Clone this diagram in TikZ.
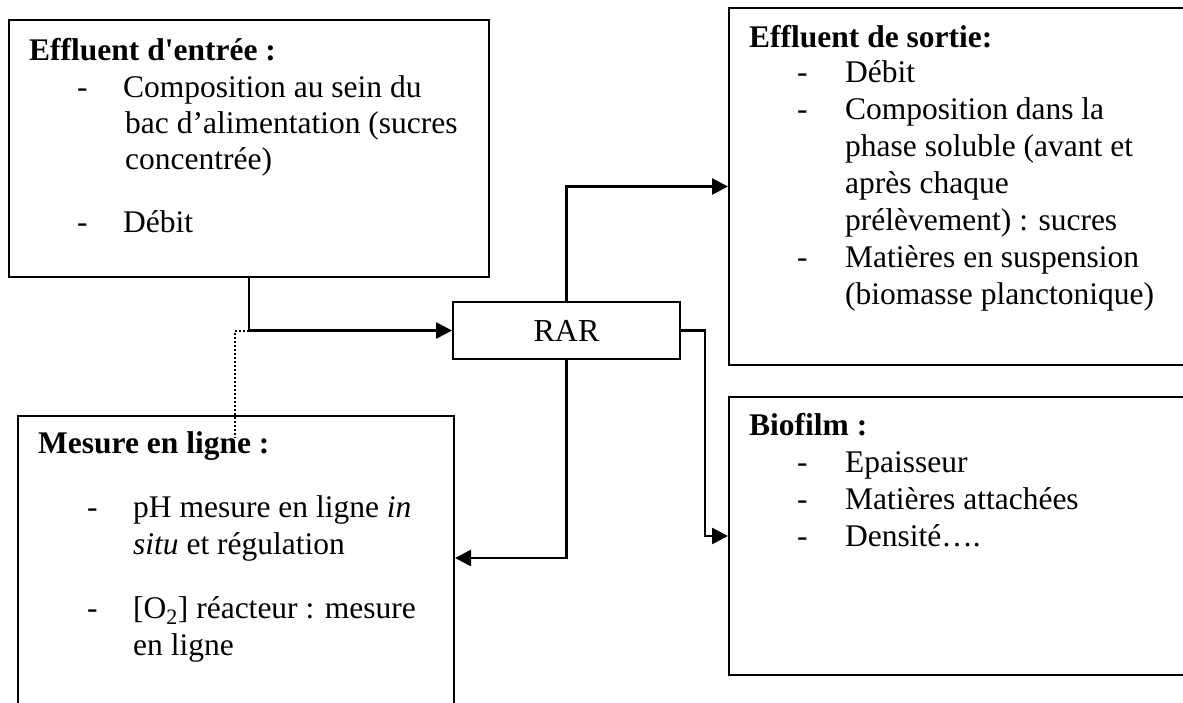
\documentclass[tikz,border=0pt]{standalone}
\usepackage{fontspec}
\setmainfont{Liberation Serif}[Ligatures=TeXOff]
\usetikzlibrary{arrows.meta}
\begin{document}
\begin{tikzpicture}[x=1pt,y=-1pt,
  box/.style={draw,line width=2pt,inner sep=0pt,anchor=north west},
  txt/.style={anchor=base west,inner sep=0pt,font=\fontsize{31.5}{37}\selectfont},
  ttl/.style={anchor=base west,inner sep=0pt,font=\fontsize{31.5}{37}\selectfont\bfseries},
  conn/.style={line width=2.6pt,-{Triangle[length=16pt,width=16pt]}},
  dotline/.style={line width=2pt,dash pattern=on 2pt off 2pt},
]
\useasboundingbox (0,0) rectangle (1183,702);
\clip (0,0) rectangle (1183,702);
\fill[white] (0,0) rectangle (1183,702);

% boxes
\node[box,minimum width=480pt,minimum height=257pt] (entree) at (8,19) {};
\node[box,minimum width=480pt,minimum height=357pt] (sortie) at (728,7) {};
\node[box,minimum width=480pt,minimum height=278pt] (biofilm) at (728,396) {};
\node[box,minimum width=436pt,minimum height=310pt] (mesure) at (17,415) {};
\node[draw,line width=2pt,minimum width=227pt,minimum height=57pt,inner sep=0pt,
      font=\fontsize{32}{38}\selectfont] (rar) at (566.5,330.5) {RAR};

% Effluent d'entree
\node[ttl] (a0) at (29,60) {Effluent d\char39 entrée :};
\node[txt] (ad1) at (77,97) {-};
\node[txt] (a1) at (123,97) {Composition au sein du};
\node[txt] (a2) at (125,133) {bac d’alimentation (sucres};
\node[txt] (a3) at (125,169) {concentrée)};
\node[txt] (ad2) at (77,232) {-};
\node[txt] (a4) at (123,232) {Débit};

% Effluent de sortie
\node[ttl] (b0) at (749,47) {Effluent de sortie:};
\node[txt] (bd1) at (797,82) {-};
\node[txt] (b1) at (845,82) {Débit};
\node[txt] (bd2) at (797,119) {-};
\node[txt] (b2) at (845,119) {Composition dans la};
\node[txt] (b3) at (845,156) {phase soluble (avant et};
\node[txt] (b4) at (845,193) {après chaque};
\node[txt] (b5) at (845,230) {prélèvement) : sucres};
\node[txt] (bd3) at (797,267) {-};
\node[txt] (b6) at (845,267) {Matières en suspension};
\node[txt] (b7) at (845,304) {(biomasse planctonique)};

% Biofilm
\node[ttl] (c0) at (749,435) {Biofilm :};
\node[txt] (cd1) at (797,472) {-};
\node[txt] (c1) at (845,472) {Epaisseur};
\node[txt] (cd2) at (797,509) {-};
\node[txt] (c2) at (845,509) {Matières attachées};
\node[txt] (cd3) at (797,546) {-};
\node[txt] (c3) at (845,546) {Densité….};

% Mesure en ligne
\node[ttl] (d0) at (38,453) {Mesure en ligne :};
\node[txt] (dd1) at (87,517) {-};
\node[txt] (d1) at (133,517) {pH mesure en ligne \textit{in}};
\node[txt] (d2) at (133,554) {\textit{situ} et régulation};
\node[txt] (dd2) at (87,618) {-};
\node[txt] (d3) at (133,618) {[O\textsubscript{2}] réacteur : mesure};
\node[txt] (d4) at (133,655) {en ligne};

% connectors
\coordinate (dotend) at (235,437);
\draw[dotline] (entree.south |- rar.west) -| (dotend);
\draw[conn] (entree.south) |- (rar.west);
\draw[conn] (rar.north) |- (sortie.west);
\draw[conn] (rar.east) -- ++(24,0) |- (biofilm.west);
\draw[conn] (rar.south) |- (mesure.east |- 0,558);
\end{tikzpicture}
\end{document}
